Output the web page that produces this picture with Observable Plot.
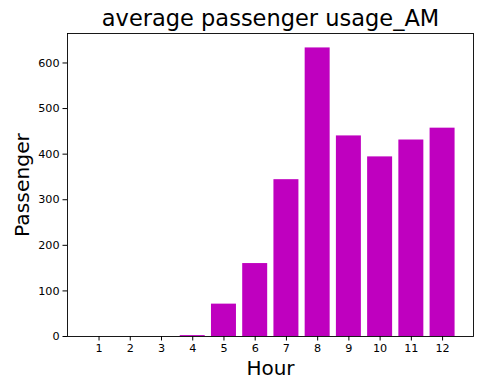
<!DOCTYPE html>
<html>
<head>
<meta charset="utf-8">
<script src="https://cdn.jsdelivr.net/npm/d3@7"></script>
<script src="https://cdn.jsdelivr.net/npm/@observablehq/plot@0.6"></script>
<style>
html, body { margin: 0; padding: 0; background: #fff; }
svg { display: block; }
</style>
</head>
<body>
<div id="chart"></div>
<script>
const hours = [1, 2, 3, 4, 5, 6, 7, 8, 9, 10, 11, 12];
const passengers = [0, 0, 0, 2, 71, 160, 344, 633, 440, 394, 431, 457];
const xTicks = [1, 2, 3, 4, 5, 6, 7, 8, 9, 10, 11, 12];
const yTicks = [0, 100, 200, 300, 400, 500, 600];

const data = hours.map((h, i) => ({hour: h, value: passengers[i]}));
const yMax = d3.max(passengers) * 1.05;

const chart = Plot.plot({
  width: 480,
  height: 384,
  marginLeft: 67,
  marginRight: 7,
  marginTop: 33,
  marginBottom: 48,
  style: {fontFamily: "DejaVu Sans", background: "#fff", color: "#000"},
  x: {domain: [-0.01, 12.99]},
  y: {domain: [0, yMax]},
  marks: [
    Plot.rectY(data, {x1: d => d.hour - 0.4, x2: d => d.hour + 0.4, y1: 0, y2: "value", fill: "#bf00bf"}),
    Plot.frame({stroke: "#000", strokeWidth: 0.9}),
    Plot.axisX({ticks: xTicks, tickSize: 4.5, tickPadding: 3, fontSize: 11.2, label: null, tickFormat: d3.format("d")}),
    Plot.axisY({ticks: yTicks, tickSize: 4.5, tickPadding: 3.5, fontSize: 11.2, label: null, tickFormat: d3.format("d")}),
    Plot.text(["average passenger usage_AM"], {frameAnchor: "top", lineAnchor: "top", dy: -23, fontSize: 22.5, fill: "#000"}),
    Plot.text(["Hour"], {frameAnchor: "bottom", lineAnchor: "bottom", dy: 38, fontSize: 20, fill: "#000"}),
    Plot.text(["Passenger"], {frameAnchor: "left", dx: -45, rotate: -90, textAnchor: "middle", fontSize: 20.3, fill: "#000"})
  ]
});
document.getElementById("chart").appendChild(chart);
</script>
</body>
</html>
